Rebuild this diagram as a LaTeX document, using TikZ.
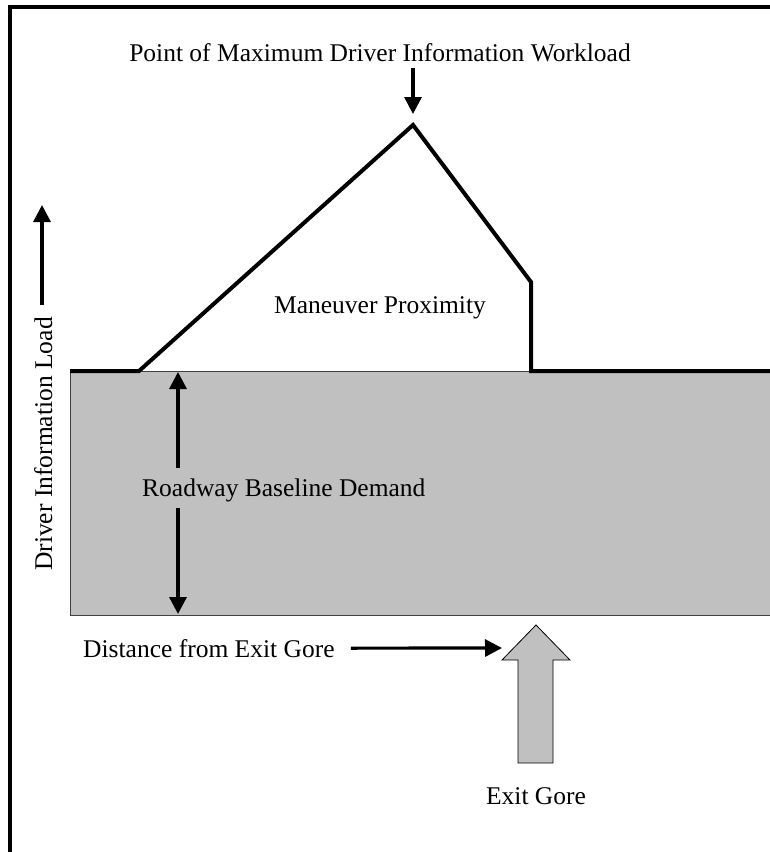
\documentclass[tikz,border=0pt]{standalone}
\usepackage{fontspec}
\setmainfont{Liberation Serif}
\usetikzlibrary{arrows.meta}
\definecolor{basegray}{HTML}{C0C0C0}
\definecolor{edgegray}{HTML}{404040}
\tikzset{
  lbl/.style={inner sep=0pt, font=\fontsize{25.5}{30}\selectfont},
  arr/.style={line width=3.2pt, -{Triangle[length=17pt,width=17pt]}},
  curve/.style={line width=4pt, line join=miter},
  frameline/.style={line width=4pt},
}
\begin{document}
\begin{tikzpicture}[x=1pt,y=-1pt]
\useasboundingbox (0,0) rectangle (769,852);

% outer frame (left and top edges)
\draw[frameline] (10,860) -- (10,7) -- (780,7);

% roadway baseline band
\draw[fill=basegray, draw=edgegray, line width=1pt] (70,371) rectangle (780,615);

% information load profile
\draw[curve] (70,371) -- (139,371) -- (413,125) -- (531,282) -- (531,371) -- (780,371);

% labels
\node[lbl, anchor=base] (peaklbl) at (380,61) {Point of Maximum Driver Information Workload};
\node[lbl, anchor=base] (manlbl) at (380,313) {Maneuver Proximity};
\node[lbl, anchor=base west] (rbd) at (142,496) {Roadway Baseline Demand};
\node[lbl, anchor=base west] (distlbl) at (83,657) {Distance from Exit Gore};
\node[lbl, anchor=base] (gorelbl) at (536,804) {Exit Gore};
\node[lbl, anchor=base, rotate=90] (ylbl) at (52,444) {Driver Information Load};

% arrow end points
\coordinate (peaktip) at (413,114);
\coordinate (ytip) at (42,205);
\coordinate (basetop) at (178,372);
\coordinate (basebot) at (178,614);
\coordinate (disttip) at (502,648);

% arrows
\draw[arr] ([yshift=-6pt]peaklbl.south -| peaktip) -- (peaktip);
\draw[arr] ([yshift=12pt]ylbl.east -| ytip) -- (ytip);
\draw[arr] ([yshift=10.5pt]rbd.north -| basetop) -- (basetop);
\draw[arr] ([yshift=-6.5pt]rbd.south -| basebot) -- (basebot);
\draw[arr] ([xshift=16pt]distlbl.east) -- (disttip);

% exit gore block arrow
\draw[fill=basegray, draw=black, line width=0.8pt, line join=miter]
  (518,763) -- (518,660) -- (502,660) -- (536,625) -- (570,660) -- (553,660) -- (553,763) -- cycle;
\end{tikzpicture}
\end{document}
